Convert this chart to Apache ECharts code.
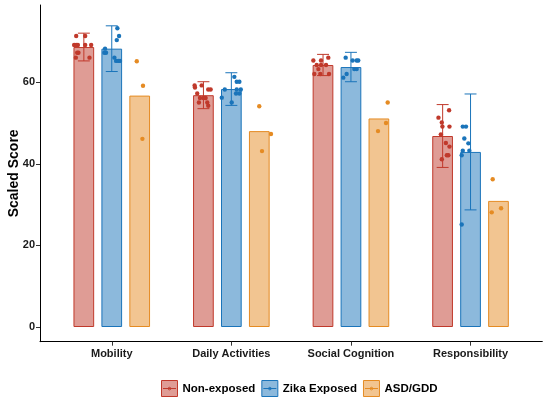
<!DOCTYPE html>
<html>
<head>
<meta charset="utf-8">
<script src="https://cdn.jsdelivr.net/npm/echarts@6/dist/echarts.min.js"></script>
<style>html,body{margin:0;padding:0;background:#fff;}#c{width:550px;height:397px;}</style>
</head>
<body>
<div id="c"></div>
<script>
// ---- data ----
const categories = ['Mobility', 'Daily Activities', 'Social Cognition', 'Responsibility'];
const groupNames = ['Non-exposed', 'Zika Exposed', 'ASD/GDD'];
const meanNonExposed = [68.6, 56.8, 64.2, 46.8];
const meanZika = [68.2, 58.3, 63.7, 42.9];
const meanASD = [56.7, 48.0, 51.1, 30.9];
const sdNonExposed = [3.4, 3.3, 2.6, 7.7];
const sdZika = [5.6, 4.0, 3.6, 14.2];
const yTicks = [0, 20, 40, 60];

// individual scores per category
const ptsNonExposed = [
  [71.3, 71.3, 69.1, 69.1, 69.1, 69.1, 69.1, 67.2, 67.2, 66.0, 66.0],
  [59.2, 58.7, 59.2, 58.2, 58.2, 57.2, 56.1, 56.1, 55.0, 55.0, 54.2, 56.1],
  [65.3, 65.3, 66.0, 64.2, 64.2, 64.2, 63.2, 62.0, 62.0, 62.0],
  [53.1, 51.3, 50.1, 49.1, 49.1, 47.2, 45.1, 44.2, 42.1, 42.1, 41.1]
];
const jitNonExposed = [
  [-0.064, 0.011, -0.081, -0.064, -0.05, 0.011, 0.061, -0.045, -0.056, -0.067, 0.047],
  [-0.074, -0.071, -0.015, 0.04, 0.06, -0.052, -0.029, 0.018, -0.038, 0.032, 0.04, 0.0],
  [-0.081, -0.017, 0.044, -0.053, -0.017, 0.025, -0.039, -0.073, -0.023, 0.05],
  [0.054, -0.035, -0.007, -0.002, 0.057, -0.015, 0.027, 0.057, 0.035, 0.048, -0.007]
];
const ptsZika = [
  [73.2, 71.3, 70.3, 68.2, 67.2, 67.2, 66.0, 65.2, 65.2, 65.2],
  [61.3, 60.1, 60.1, 58.2, 58.2, 58.2, 57.2, 57.2, 56.2, 55.0],
  [66.0, 65.3, 65.3, 65.3, 63.2, 63.2, 62.0, 61.1],
  [49.1, 49.1, 46.2, 45.0, 43.2, 43.2, 42.1, 25.1]
];
const jitZika = [
  [0.047, 0.061, 0.042, -0.056, -0.048, -0.062, 0.022, 0.036, 0.055, 0.069],
  [0.025, 0.045, 0.067, -0.055, 0.045, 0.079, 0.039, 0.067, -0.08, 0.003],
  [-0.044, 0.014, 0.048, 0.061, 0.028, 0.048, -0.036, -0.064],
  [-0.065, -0.038, -0.052, -0.018, -0.065, -0.01, -0.074, -0.074]
];
const ptsASD = [
  [65.1, 59.1, 46.1],
  [54.1, 47.3, 43.1],
  [55.0, 50.0, 48.0],
  [36.2, 28.1, 29.1]
];
const jitASD = [
  [-0.024, 0.028, 0.023],
  [0.0, 0.098, 0.023],
  [0.074, 0.06, -0.007],
  [-0.048, -0.056, 0.022]
];

// ---- styling / layout ----
const baseColors = ['#C0392B', '#1A74BA', '#E58B23'];
const fillColors = ['rgba(192,57,43,0.5)', 'rgba(26,116,186,0.5)', 'rgba(229,139,35,0.5)'];
const dodge = 0.2333;
const capHalf = 0.05;
const FONT = '"Liberation Sans", Arial, sans-serif';

const means = [meanNonExposed, meanZika, meanASD];
const sds = [sdNonExposed, sdZika, null];
const pts = [ptsNonExposed, ptsZika, ptsASD];
const jits = [jitNonExposed, jitZika, jitASD];

const series = [];
groupNames.forEach((g, gi) => {
  series.push({
    name: g, type: 'bar',
    data: means[gi].map((v, i) => [i + 1, v]),
    barWidth: 20.7, barGap: '35%',
    itemStyle: { color: fillColors[gi], borderColor: baseColors[gi], borderWidth: 1 },
    z: 2
  });
});
groupNames.forEach((g, gi) => {
  const off = (gi - 1) * dodge;
  if (sds[gi]) {
    series.push({
      name: g + ' err', type: 'custom', z: 3,
      data: means[gi].map((m, i) => [i + 1 + off, m - sds[gi][i], m + sds[gi][i]]),
      renderItem: function (params, api) {
        const x = api.value(0), lo = api.value(1), hi = api.value(2);
        const t = api.coord([x, hi]), b = api.coord([x, lo]);
        const tl = api.coord([x - capHalf, hi]), tr = api.coord([x + capHalf, hi]);
        const bl = api.coord([x - capHalf, lo]), br = api.coord([x + capHalf, lo]);
        const st = { stroke: baseColors[gi], lineWidth: 1, fill: null };
        return { type: 'group', children: [
          { type: 'line', shape: { x1: t[0], y1: t[1], x2: b[0], y2: b[1] }, style: st },
          { type: 'line', shape: { x1: tl[0], y1: tl[1], x2: tr[0], y2: tr[1] }, style: st },
          { type: 'line', shape: { x1: bl[0], y1: bl[1], x2: br[0], y2: br[1] }, style: st }
        ]};
      }
    });
  }
  const sdata = [];
  pts[gi].forEach((arr, ci) => arr.forEach((v, k) => sdata.push([ci + 1 + off + jits[gi][ci][k], v])));
  series.push({
    name: g + ' pts', type: 'scatter', z: 4,
    symbolSize: 4.4, data: sdata,
    itemStyle: { color: baseColors[gi], opacity: 1 }
  });
});

const legendIcon = 'path://M0,0H16V16H0Z M1.5,8H14.5 M9.3,8A1.3,1.3,0,1,1,9.29,7.9Z';

const option = {
  animation: false,
  backgroundColor: '#fff',
  textStyle: { fontFamily: FONT },
  grid: { left: 40, right: 7.7, top: 5, bottom: 55.3, containLabel: false, outerBoundsMode: 'none' },
  xAxis: {
    type: 'value', min: 0.4, max: 4.6,
    axisLine: { show: true, onZero: false, lineStyle: { color: '#000', width: 1 } },
    axisTick: { show: true, length: 4, customValues: [1, 2, 3, 4], lineStyle: { color: '#333' } },
    axisLabel: {
      customValues: [1, 2, 3, 4], margin: 7,
      formatter: v => categories[Math.round(v) - 1],
      color: '#1a1a1a', fontWeight: 'bold', fontSize: 11, fontFamily: FONT
    },
    splitLine: { show: false }
  },
  yAxis: {
    type: 'value', min: -3.6, max: 78.9,
    name: 'Scaled Score', nameLocation: 'middle', nameGap: 19, nameMoveOverlap: false,
    nameTextStyle: { color: '#000', fontWeight: 'bold', fontSize: 14, fontFamily: FONT },
    axisLine: { show: true, onZero: false, lineStyle: { color: '#000', width: 1 } },
    axisTick: { show: true, length: 4, customValues: yTicks, lineStyle: { color: '#333' } },
    axisLabel: { customValues: yTicks, margin: 5, color: '#1a1a1a', fontWeight: 'bold', fontSize: 11, fontFamily: FONT },
    splitLine: { show: false }
  },
  legend: {
    data: groupNames.map((g, gi) => ({ name: g, icon: legendIcon,
      itemStyle: { color: fillColors[gi], borderColor: baseColors[gi], borderWidth: 1 } })),
    left: 156, top: 375, itemWidth: 16, itemHeight: 16, itemGap: 6,
    selectedMode: false,
    textStyle: { color: '#000', fontWeight: 'bold', fontSize: 11.5, fontFamily: FONT }
  },
  series: series
};

const chart = echarts.init(document.getElementById('c'), null, { renderer: 'canvas' });
chart.setOption(option);
</script>
</body>
</html>
